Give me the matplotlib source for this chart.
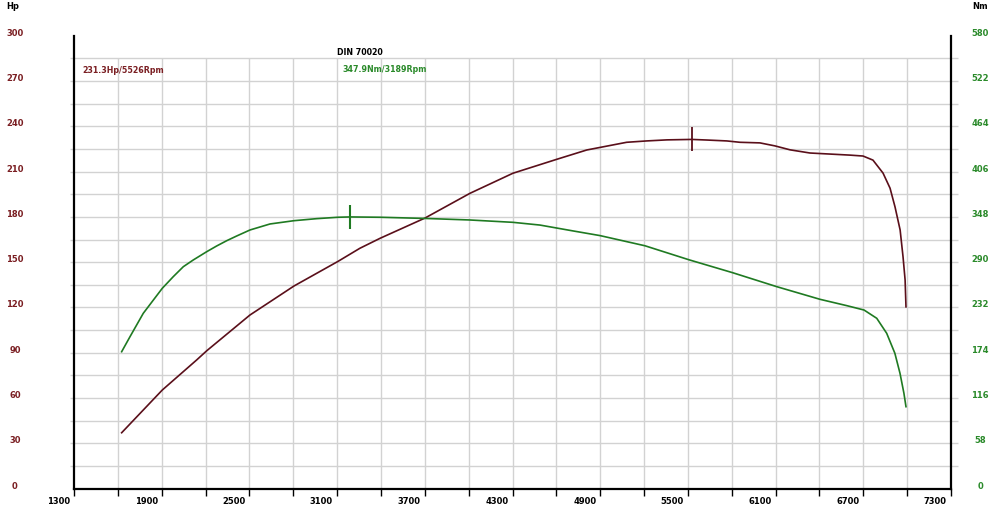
import matplotlib
matplotlib.use('Agg')
import matplotlib.pyplot as plt
from matplotlib.transforms import ScaledTranslation

# Colors
red_line = '#5a0f1a'
red_text = '#7a1e22'
green_line = '#1f7a22'
green_text = '#2a8a2a'
grid_color = '#d2d2d2'

# Data
rpm_power = [1626, 1904, 2139, 2208, 2504, 2805, 3106, 3256, 3394, 3701, 4009,
             4303, 4602, 4808, 5081, 5218, 5357, 5526, 5629, 5766, 5856, 5993,
             6096, 6199, 6335, 6472, 6609, 6698, 6766, 6835, 6883, 6917, 6952,
             6972, 6986, 6992]
power_hp = [37.0, 65.3, 85.2, 91.3, 115.0, 134.2, 150.5, 159.2, 165.8, 179.2, 195.6,
            208.9, 218.1, 224.3, 229.4, 230.3, 231.0, 231.3, 230.9, 230.3, 229.4, 229.0,
            227.0, 224.4, 222.3, 221.6, 220.9, 220.3, 217.6, 209.0, 199.0, 186.6, 171.3,
            153.4, 138.2, 120.4]

rpm_torque = [1626, 1683, 1774, 1843, 1904, 1979, 2048, 2116, 2208, 2276, 2345,
              2413, 2504, 2641, 2805, 2960, 3106, 3189, 3394, 3701, 4009, 4303,
              4488, 4714, 4899, 5206, 5508, 5806, 6108, 6404, 6587, 6705, 6792,
              6860, 6916, 6951, 6978, 6992]
torque_nm = [175.3, 194.5, 224.5, 241.5, 256.5, 271.4, 284.2, 292.8, 303.4, 310.7, 317.5,
             323.5, 331.2, 338.9, 343.1, 345.7, 347.5, 347.9, 347.5, 346.0, 344.0, 341.0,
             337.5, 330.0, 324.0, 311.0, 293.0, 276.5, 258.6, 242.4, 234.3, 228.7, 218.1,
             198.9, 173.3, 147.7, 122.0, 104.9]

peak_power = (5526, 231.3)
peak_torque = (3189, 347.9)

x_labels = list(range(1300, 7301, 600))
x_minor = list(range(1300, 7301, 300))
hp_ticks = list(range(0, 301, 30))
nm_ticks = list(range(0, 581, 58))

fig = plt.figure(figsize=(10, 5.16), dpi=100)
ax = fig.add_axes([0.074, 0.0531, 0.877, 0.8777])
ax.set_xlim(1300, 7300)
ax.set_ylim(0, 300)
ax2 = ax.twinx()
ax2.set_ylim(0, 580)

# Grid (drawn by hand, it sticks out past the spines a little)
ax.hlines(range(15, 286, 15), 1300 - 27, 7300 + 48, color=grid_color, lw=1.0,
          zorder=0, clip_on=False)
ax.vlines(range(1600, 7001, 300), 0, 285, color=grid_color, lw=1.0, zorder=0)

# Curves
ax.plot(rpm_power, power_hp, color=red_line, lw=1.2, zorder=3)
ax.plot(*peak_power, marker='|', ms=17, mew=1.3, color=red_line, zorder=4)
ax2.plot(rpm_torque, torque_nm, color=green_line, lw=1.2, zorder=3)
ax2.plot(*peak_torque, marker='|', ms=17, mew=1.5, color=green_line, zorder=4)

# Spines
for a in (ax, ax2):
    a.spines['top'].set_visible(False)
ax.spines['right'].set_visible(False)
ax2.spines['left'].set_visible(False)
ax2.spines['bottom'].set_visible(False)
for s in ('left', 'bottom'):
    ax.spines[s].set_linewidth(1.6)
    ax.spines[s].set_color('black')
ax2.spines['right'].set_linewidth(1.6)
ax2.spines['right'].set_color('black')

# Ticks
up = ScaledTranslation(0, 0.035, fig.dpi_scale_trans)
ax.set_xticks(x_labels, [str(v) for v in x_labels])
ax.set_xticks(x_minor, minor=True)
ax.tick_params(axis='x', which='both', length=5, width=1, color='black',
               direction='out', pad=1, labelsize=6)
for lab in ax.get_xticklabels():
    lab.set_fontweight('bold')
    lab.set_ha('right')
    lab.set_transform(lab.get_transform() + ScaledTranslation(-0.04, 0, fig.dpi_scale_trans))

ax.set_yticks(hp_ticks, [str(v) for v in hp_ticks])
ax.tick_params(axis='y', length=0, pad=42.5, labelsize=6, labelcolor=red_text)
for lab in ax.get_yticklabels():
    lab.set_fontweight('bold')
    lab.set_ha('center')
    lab.set_transform(lab.get_transform() + up)

ax2.set_yticks(nm_ticks, [str(v) for v in nm_ticks])
ax2.tick_params(axis='y', length=0, pad=21, labelsize=6, labelcolor=green_text)
for lab in ax2.get_yticklabels():
    lab.set_fontweight('bold')
    lab.set_ha('center')
    lab.set_transform(lab.get_transform() + up)

# Texts
fig.text(0.013, 0.988, 'Hp', fontsize=6, fontweight='bold', color='black',
         ha='center', va='center')
fig.text(0.980, 0.987, 'Nm', fontsize=6, fontweight='bold', color='black',
         ha='center', va='center')
ax.text(1355, 276.8, '231.3Hp/5526Rpm', fontsize=5.7, fontweight='bold',
        color=red_text, ha='left', va='center')
ax.text(3100, 288.6, 'DIN 70020', fontsize=5.7, fontweight='bold',
        color='black', ha='left', va='center')
ax.text(3135, 277.6, '347.9Nm/3189Rpm', fontsize=5.7, fontweight='bold',
        color=green_text, ha='left', va='center')

fig.savefig('out.png', dpi=100, facecolor='white')
